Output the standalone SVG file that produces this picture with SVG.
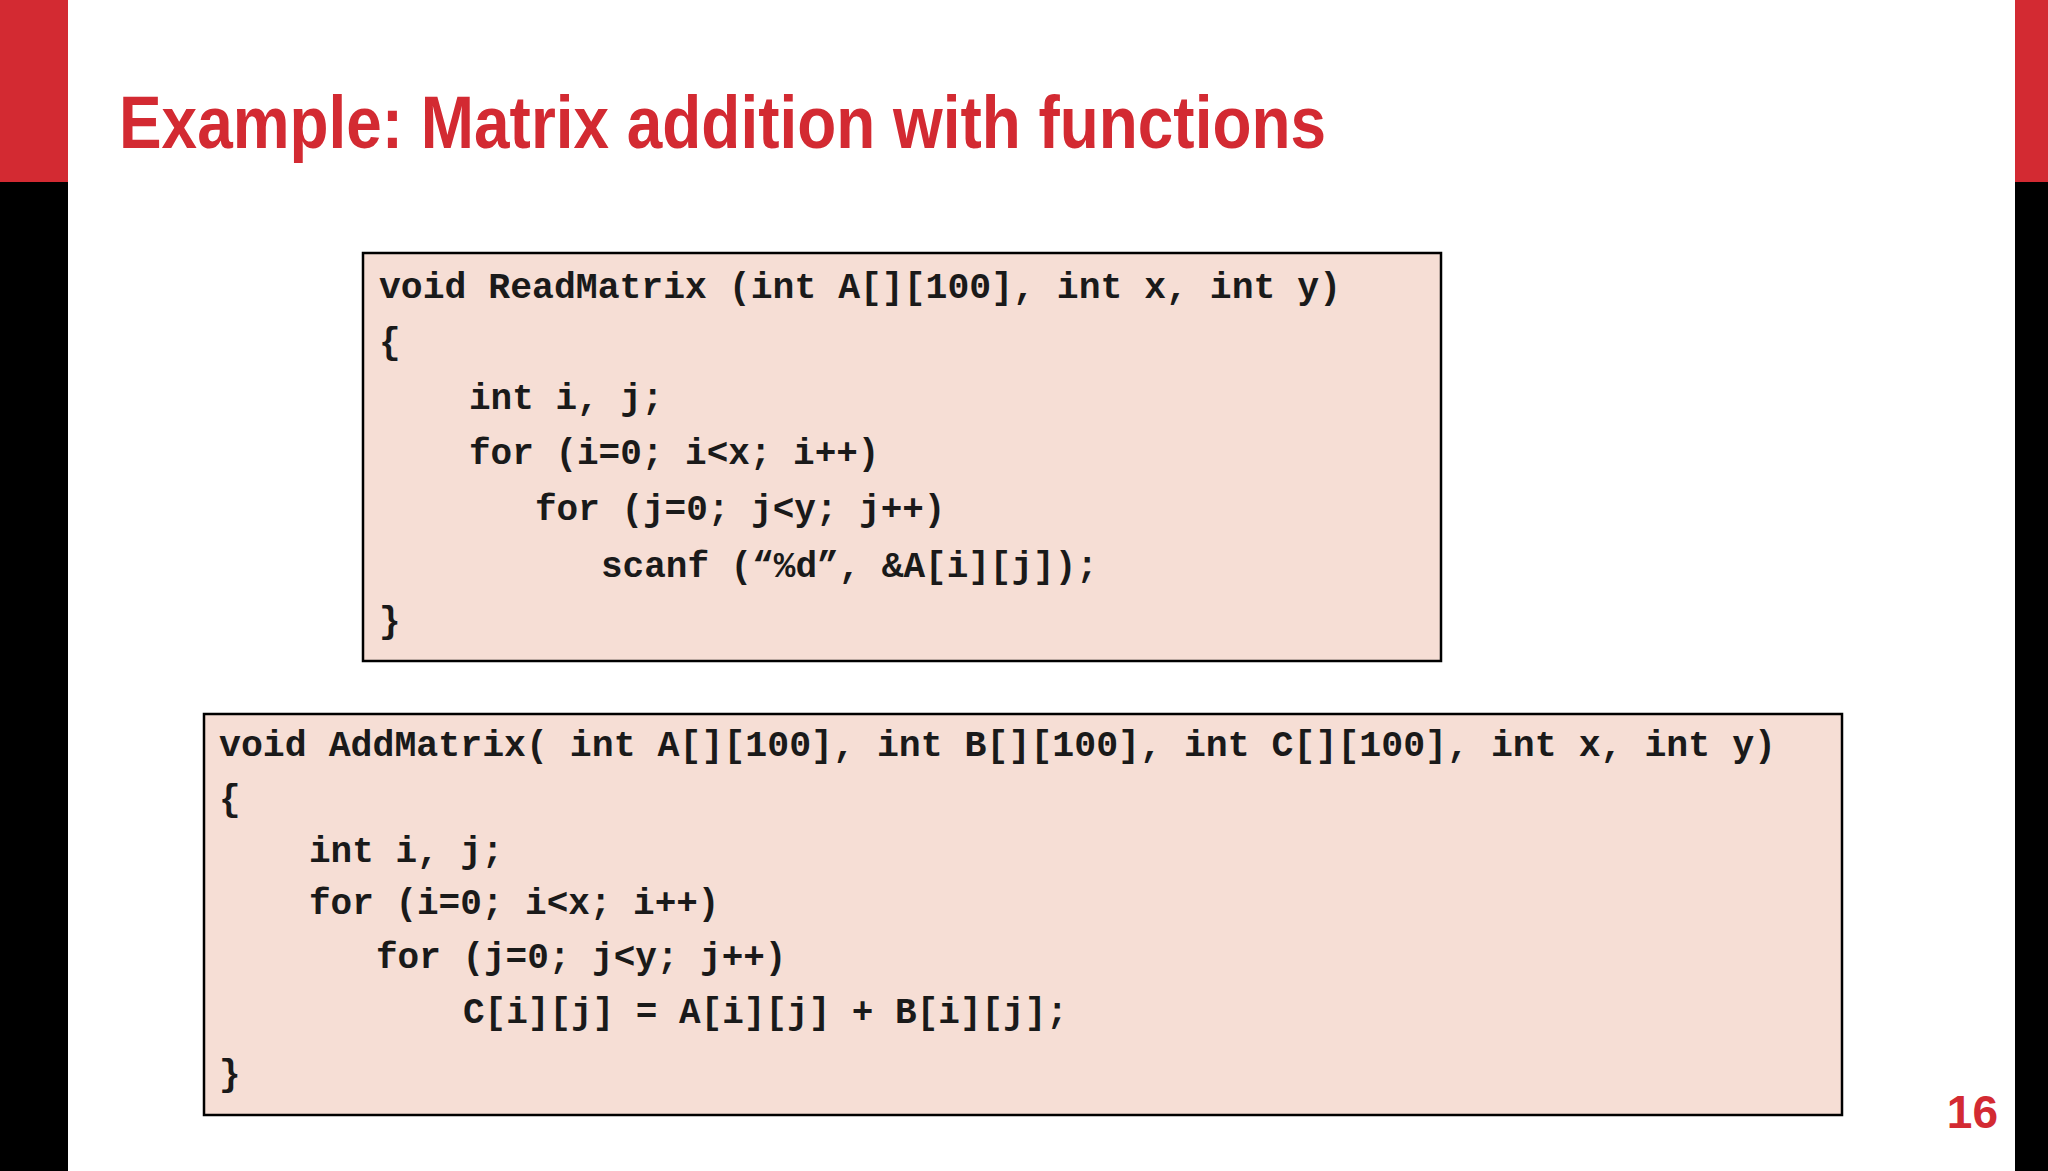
<svg xmlns="http://www.w3.org/2000/svg" width="2048" height="1171" viewBox="0 0 2048 1171">
<style>
.code{font-family:"Liberation Mono","DejaVu Sans Mono",monospace;font-weight:bold;font-size:36px;fill:#1a1a1a}
.box{fill:#F6DED5;stroke:#000;stroke-width:2.5}
</style>
<rect width="2048" height="1171" fill="#fff"/>
<rect x="0" y="0" width="68" height="182" fill="#D32A32"/>
<rect x="0" y="182" width="68" height="989" fill="#000"/>
<rect x="2015" y="0" width="33" height="182" fill="#D32A32"/>
<rect x="2015" y="182" width="33" height="989" fill="#000"/>
<text x="119" y="148" font-family="Liberation Sans Narrow, Liberation Sans, sans-serif" font-weight="bold" font-size="74" fill="#D32A32" textLength="1207" lengthAdjust="spacingAndGlyphs">Example: Matrix addition with functions</text>
<text x="1998" y="1128" text-anchor="end" font-family="Liberation Sans, sans-serif" font-weight="bold" font-size="46" fill="#D32A32">16</text>
<g id="readmatrix">
<rect class="box" x="363" y="253" width="1078" height="408"/>
<text class="code" x="379" y="298" textLength="962" lengthAdjust="spacingAndGlyphs">void ReadMatrix (int A[][100], int x, int y)</text>
<text class="code" x="379" y="353">{</text>
<text class="code" x="469" y="409">int i, j;</text>
<text class="code" x="469" y="464">for (i=0; i&lt;x; i++)</text>
<text class="code" x="535" y="520">for (j=0; j&lt;y; j++)</text>
<text class="code" x="601" y="577">scanf (“%d”, &amp;A[i][j]);</text>
<text class="code" x="379" y="632">}</text>
</g>
<g id="addmatrix">
<rect class="box" x="204" y="714" width="1638" height="401"/>
<text class="code" x="219" y="756" textLength="1557" lengthAdjust="spacingAndGlyphs">void AddMatrix( int A[][100], int B[][100], int C[][100], int x, int y)</text>
<text class="code" x="219" y="810">{</text>
<text class="code" x="309" y="862">int i, j;</text>
<text class="code" x="309" y="914">for (i=0; i&lt;x; i++)</text>
<text class="code" x="376" y="968">for (j=0; j&lt;y; j++)</text>
<text class="code" x="463" y="1023">C[i][j] = A[i][j] + B[i][j];</text>
<text class="code" x="219" y="1085">}</text>
</g>
<g id="connectors"/>
</svg>
